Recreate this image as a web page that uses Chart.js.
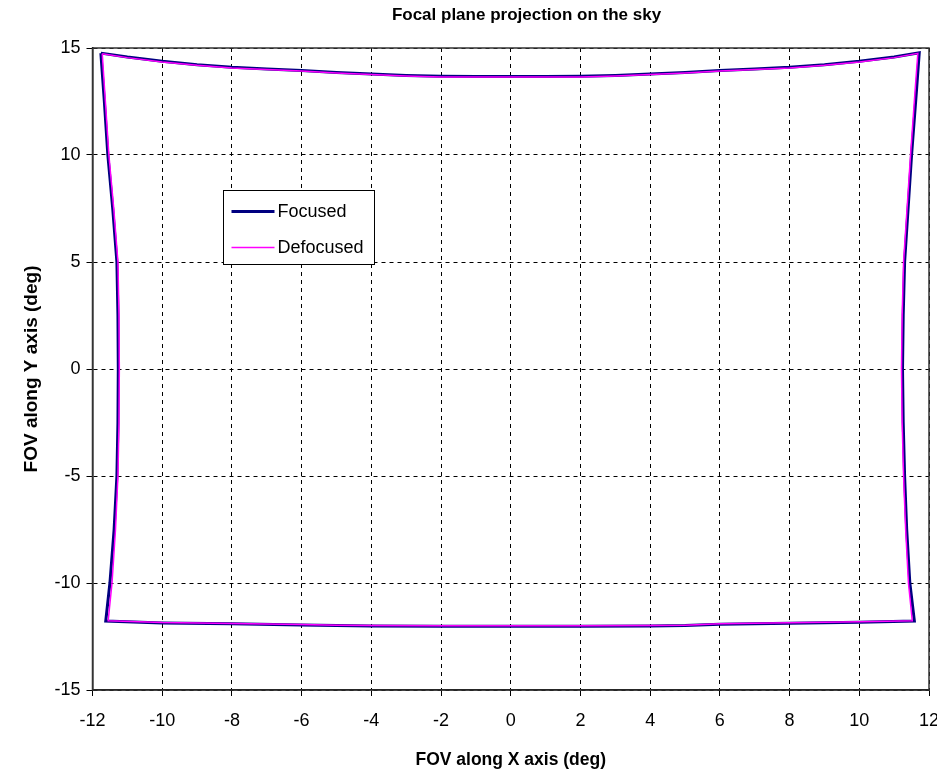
<!DOCTYPE html>
<html>
<head>
<meta charset="utf-8">
<title>Focal plane projection on the sky</title>
<script src="https://cdn.jsdelivr.net/npm/chart.js@4"></script>
<style>
	html, body { margin: 0; padding: 0; background: #fff; }
	#wrap { width: 937px; height: 778px; }
</style>
</head>
<body>
<div id="wrap"><canvas id="fovChart"></canvas></div>
<script>
// Outline of the field of view, traced clockwise from the top-left corner
const focusedX = [-11.76, -11, -10, -9, -8, -7, -6, -5, -4, -3, -2, -1, 0, 1, 2, 3, 4, 5, 6, 7, 8, 9, 10, 11, 11.72,
	11.64, 11.5, 11.4, 11.3, 11.26, 11.24, 11.26, 11.3, 11.36, 11.45, 11.58,
	10, 8, 6, 5, 4, 2, 0, -2, -4, -5, -6, -8, -10, -11.62,
	-11.5, -11.38, -11.3, -11.27, -11.26, -11.27, -11.3, -11.42, -11.56, -11.66, -11.76];
const focusedY = [14.76, 14.58, 14.38, 14.22, 14.10, 14.02, 13.95, 13.86, 13.79, 13.72, 13.68, 13.67, 13.67, 13.67, 13.68, 13.72, 13.79, 13.86, 13.95, 14.02, 14.10, 14.22, 14.38, 14.58, 14.78,
	13, 10, 7.5, 5, 2.5, 0, -2.5, -5, -7.5, -10, -11.78,
	-11.83, -11.88, -11.93, -11.99, -12.01, -12.02, -12.02, -12.02, -12.01, -11.99, -11.96, -11.91, -11.87, -11.78,
	-10, -7.5, -5, -2.5, 0, 2.5, 5, 7.5, 10, 12.5, 14.76];

const defocusedX = [-11.72, -11, -10, -9, -8, -7, -6, -5, -4, -3, -2, -1, 0, 1, 2, 3, 4, 5, 6, 7, 8, 9, 10, 11, 11.68,
	11.6, 11.47, 11.37, 11.27, 11.23, 11.21, 11.23, 11.27, 11.33, 11.41, 11.52,
	10, 8, 6, 5, 4, 2, 0, -2, -4, -5, -6, -8, -10, -11.55,
	-11.44, -11.34, -11.27, -11.24, -11.23, -11.24, -11.27, -11.39, -11.53, -11.63, -11.72];
const defocusedY = [14.73, 14.55, 14.35, 14.19, 14.07, 13.99, 13.92, 13.83, 13.76, 13.69, 13.65, 13.64, 13.64, 13.64, 13.65, 13.69, 13.76, 13.83, 13.92, 13.99, 14.07, 14.19, 14.35, 14.55, 14.75,
	13, 10, 7.5, 5, 2.5, 0, -2.5, -5, -7.5, -10, -11.76,
	-11.81, -11.86, -11.91, -11.97, -11.99, -12.0, -12.0, -12.0, -11.99, -11.97, -11.94, -11.89, -11.85, -11.76,
	-10, -7.5, -5, -2.5, 0, 2.5, 5, 7.5, 10, 12.5, 14.73];

const seriesLabels = ['Focused', 'Defocused'];
const xTicks = [-12, 12, 2];   // min, max, step
const yTicks = [-15, 15, 5];

const FONT = "'Liberation Sans', Arial, sans-serif";

const toPoints = (xs, ys) => xs.map((x, i) => ({x: x, y: ys[i]}));

// the title sits a bit right of the page centre in the original
const nudgeTitle = {
	id: 'nudgeTitle',
	afterLayout(chart) {
		if (chart.titleBlock) {
			chart.titleBlock.left += 62;
			chart.titleBlock.right += 62;
		}
	}
};

// frame round the plot area (top and right edges)
const frameBox = {
	id: 'frameBox',
	afterDatasetsDraw(chart) {
		const a = chart.chartArea;
		const ctx = chart.ctx;
		ctx.save();
		ctx.strokeStyle = '#333';
		ctx.lineWidth = 1.5;
		ctx.strokeRect(a.left, a.top, a.right - a.left, a.bottom - a.top);
		ctx.restore();
	}
};

// boxed legend sitting inside the plot, like the spreadsheet one
const insideLegend = {
	id: 'insideLegend',
	afterDraw(chart) {
		const a = chart.chartArea;
		const ctx = chart.ctx;
		const bx = Math.round(a.left + 130) + 0.5;
		const by = Math.round(a.top + 142) + 0.5;
		const bw = 151, bh = 74;
		ctx.save();
		ctx.fillStyle = '#fff';
		ctx.fillRect(bx, by, bw, bh);
		ctx.strokeStyle = '#000';
		ctx.lineWidth = 1;
		ctx.strokeRect(bx, by, bw, bh);
		const rows = [by + 21, by + 57];
		chart.data.datasets.forEach((ds, i) => {
			ctx.beginPath();
			ctx.strokeStyle = ds.borderColor;
			ctx.lineWidth = ds.borderWidth;
			ctx.moveTo(bx + 8, rows[i]);
			ctx.lineTo(bx + 51, rows[i]);
			ctx.stroke();
			ctx.fillStyle = '#000';
			ctx.font = '18px ' + FONT;
			ctx.textBaseline = 'middle';
			ctx.fillText(ds.label, bx + 54, rows[i] + 1);
		});
		ctx.restore();
	}
};

new Chart(document.getElementById('fovChart'), {
	type: 'scatter',
	data: {
		datasets: [
			{
				label: seriesLabels[0],
				data: toPoints(focusedX, focusedY),
				showLine: true,
				borderColor: '#000080',
				borderWidth: 3,
				pointRadius: 0,
				order: 1
			},
			{
				label: seriesLabels[1],
				data: toPoints(defocusedX, defocusedY),
				showLine: true,
				borderColor: '#ff00ff',
				borderWidth: 1.5,
				pointRadius: 0,
				order: 0
			}
		]
	},
	options: {
		responsive: true,
		maintainAspectRatio: false,
		animation: false,
		layout: {
			padding: {left: 0, right: 8, top: 0, bottom: 0}
		},
		plugins: {
			legend: {display: false},
			tooltip: {enabled: false},
			title: {
				display: true,
				text: 'Focal plane projection on the sky',
				color: '#000',
				font: {family: FONT, size: 17, weight: 'bold', lineHeight: 1.2},
				padding: {top: 5, bottom: 22.6}
			}
		},
		scales: {
			x: {
				type: 'linear',
				min: xTicks[0],
				max: xTicks[1],
				afterFit(scale) {
					scale.height = 88;
					scale.paddingLeft = 0;
					scale.paddingRight = 0;
				},
				ticks: {
					stepSize: xTicks[2],
					color: '#000',
					padding: 14,
					font: {family: FONT, size: 18}
				},
				grid: {
					color: '#000',
					lineWidth: 1,
					tickLength: 6,
					tickColor: '#000',
					tickBorderDash: []
				},
				border: {display: true, color: '#000', width: 1.5, dash: [4, 4]},
				title: {
					display: true,
					text: 'FOV along X axis (deg)',
					color: '#000',
					font: {family: FONT, size: 17.5, weight: 'bold', lineHeight: 1.2},
					padding: {top: 4, bottom: 7}
				}
			},
			y: {
				type: 'linear',
				min: yTicks[0],
				max: yTicks[1],
				afterFit(scale) {
					scale.width = 92.5;
					scale.paddingTop = 0;
					scale.paddingBottom = 0;
				},
				ticks: {
					stepSize: yTicks[2],
					color: '#000',
					padding: 6,
					font: {family: FONT, size: 18}
				},
				grid: {
					color: '#000',
					lineWidth: 1,
					tickLength: 6,
					tickColor: '#000',
					tickBorderDash: []
				},
				border: {display: true, color: '#000', width: 1.5, dash: [4, 4]},
				title: {
					display: true,
					text: 'FOV along Y axis (deg)',
					color: '#000',
					font: {family: FONT, size: 19, weight: 'bold', lineHeight: 1.2},
					padding: {top: 20, bottom: 4}
				}
			}
		}
	},
	plugins: [nudgeTitle, frameBox, insideLegend]
});
</script>
</body>
</html>
